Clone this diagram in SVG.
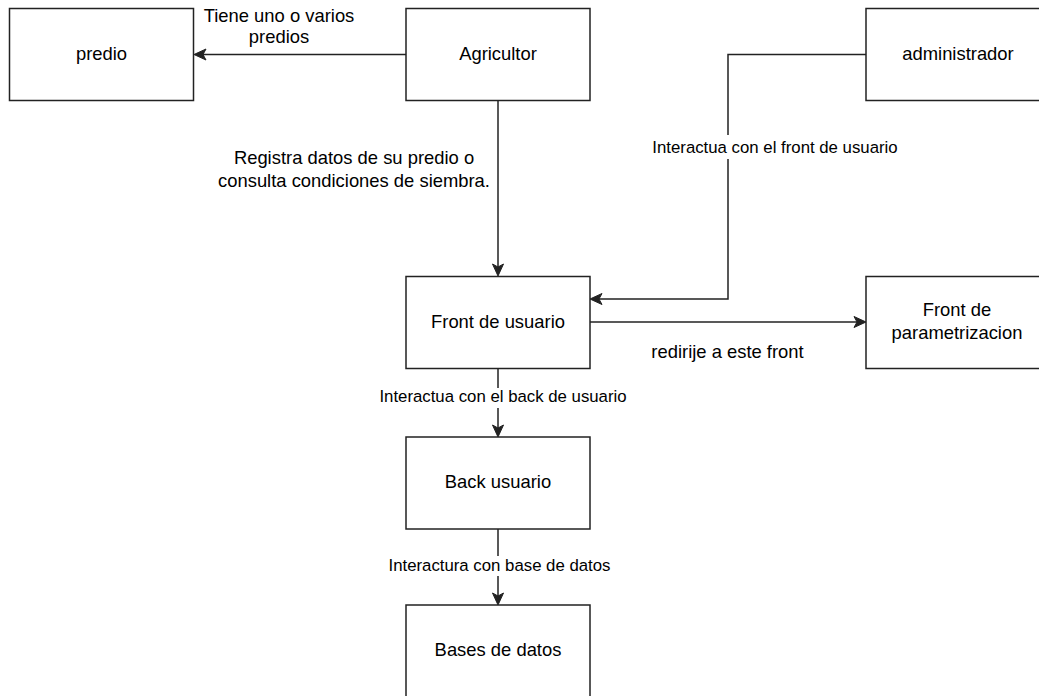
<svg xmlns="http://www.w3.org/2000/svg" width="1039" height="696" viewBox="0 0 1039 696">
<style>
.box{fill:#fff;stroke:#222;stroke-width:1.5}
.lbl{font-family:"Liberation Sans",Arial,sans-serif;font-size:18.4px;fill:#000;text-anchor:middle}
.elbl{font-family:"Liberation Sans",Arial,sans-serif;font-size:16.8px;fill:#000;text-anchor:middle}
.edge{fill:none;stroke:#222;stroke-width:1.5}
.bg{fill:#fff}
</style>
<defs>
<marker id="arr" markerUnits="userSpaceOnUse" markerWidth="12" markerHeight="11" refX="3" refY="5.5" orient="auto" overflow="visible">
<path d="M0,0 L12,5.5 L0,11 L3,5.5 Z" fill="#222" stroke="#222" stroke-width="1"/>
</marker>
</defs>
<rect width="1039" height="696" fill="#fff"/>
<g id="connectors">
<path class="edge" d="M406,54.5 H203" marker-end="url(#arr)"/>
<text class="lbl" x="279" y="22">Tiene uno o varios</text>
<text class="lbl" x="279" y="43">predios</text>
<path class="edge" d="M498,100.5 V267" marker-end="url(#arr)"/>
<text class="lbl" x="354" y="164">Registra datos de su predio o</text>
<text class="lbl" x="354" y="187">consulta condiciones de siembra.</text>
<path class="edge" d="M866,54.5 H728 V299 H599" marker-end="url(#arr)"/>
<rect class="bg" x="650" y="135" width="250" height="24"/>
<text class="elbl" x="775" y="153">Interactua con el front de usuario</text>
<path class="edge" d="M590,322 H857" marker-end="url(#arr)"/>
<text class="lbl" x="727.5" y="358">redirije a este front</text>
<path class="edge" d="M498,368.5 V428" marker-end="url(#arr)"/>
<rect class="bg" x="377" y="388" width="252" height="20"/>
<text class="elbl" x="503" y="402">Interactua con el back de usuario</text>
<path class="edge" d="M498,529 V596" marker-end="url(#arr)"/>
<rect class="bg" x="386" y="556" width="227" height="20"/>
<text class="elbl" x="499.5" y="571">Interactura con base de datos</text>
</g>
<g id="predio">
<rect class="box" x="9.5" y="8.5" width="184" height="92"/>
<text class="lbl" x="101.5" y="60">predio</text>
</g>
<g id="agricultor">
<rect class="box" x="406" y="8.5" width="184" height="92"/>
<text class="lbl" x="498" y="60">Agricultor</text>
</g>
<g id="administrador">
<rect class="box" x="866" y="8.5" width="184" height="92"/>
<text class="lbl" x="958" y="60">administrador</text>
</g>
<g id="front-usuario">
<rect class="box" x="406" y="276.5" width="184" height="92"/>
<text class="lbl" x="498" y="328">Front de usuario</text>
</g>
<g id="front-parametrizacion">
<rect class="box" x="866" y="276.5" width="184" height="92"/>
<text class="lbl" x="957" y="316">Front de</text>
<text class="lbl" x="957" y="339">parametrizacion</text>
</g>
<g id="back-usuario">
<rect class="box" x="406" y="437" width="184" height="92"/>
<text class="lbl" x="498" y="488">Back usuario</text>
</g>
<g id="bases-datos">
<rect class="box" x="406" y="605" width="184" height="92"/>
<text class="lbl" x="498" y="656">Bases de datos</text>
</g>
</svg>
